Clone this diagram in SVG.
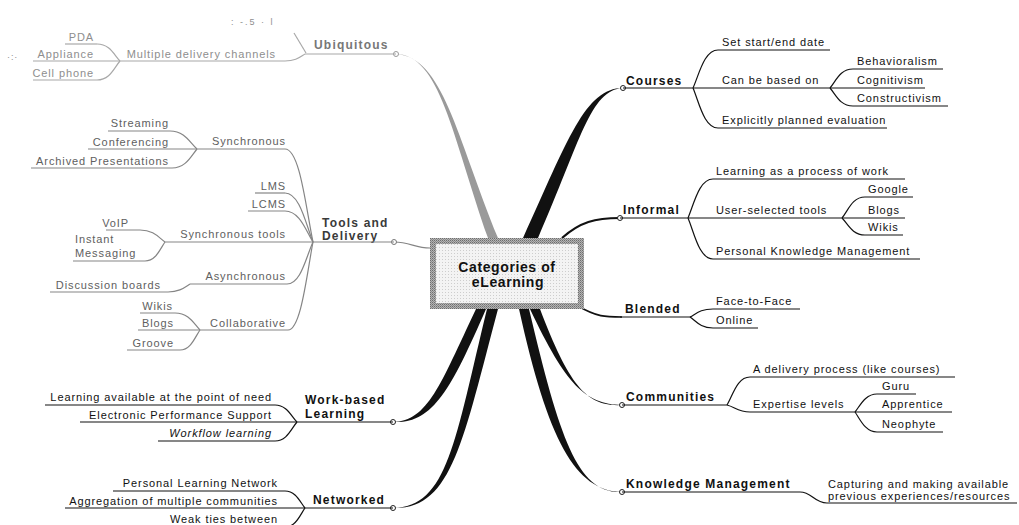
<svg xmlns="http://www.w3.org/2000/svg" width="1019" height="525" viewBox="0 0 1019 525">
  <defs>
    <pattern id="hatch" width="2" height="2" patternUnits="userSpaceOnUse">
      <rect width="2" height="2" fill="#b4b4b4"/>
      <rect width="1" height="1" fill="#6e6e6e"/>
      <rect x="1" y="1" width="1" height="1" fill="#8a8a8a"/>
    </pattern>
    <pattern id="dots" width="3" height="3" patternUnits="userSpaceOnUse">
      <rect width="3" height="3" fill="#f3f3f3"/>
      <rect x="1" y="1" width="1" height="1" fill="#cdcdcd"/>
    </pattern>
    <style>
      .t { font-family: "Liberation Sans", Arial, sans-serif; font-size: 11px; letter-spacing: 0.9px; fill: #111; }
      .b { font-weight: bold; font-size: 12px; letter-spacing: 1.2px; }
      .e { text-anchor: end; }
      .i { font-style: italic; }
      .ul { stroke: #111; stroke-width: 1.2; fill: none; }
      .c { stroke: #111; stroke-width: 1.2; fill: none; }
      .ubq .t { fill: #8e8e8e; }
      .ubq .b { fill: #777; }
      .ubq .ul, .ubq-c { stroke: #a8a8a8; }
      .tls .t { fill: #606060; }
      .tls .b { fill: #3a3a3a; }
      .tls .ul, .tls-c { stroke: #858585; }
      .dot { fill: #fff; stroke: #222; stroke-width: 1; }
      .trunk { fill: #111; }
    </style>
  </defs>

  <rect width="1019" height="525" fill="#fff"/>

  <!-- connectors -->
  <g id="connectors">
    <!-- tapered main branches -->
    <path d="M488,238 C452,135 440,55 396,54 C443,57 456,135 498,238 Z" fill="#9a9a9a"/>
    <path class="trunk" d="M523,238 C568,140 585,88 623,88 C590,90 581,140 538,238 Z"/>
    <path class="trunk" d="M476,309 C440,385 428,421 393,422 C432,424 450,392 486,309 Z"/>
    <path class="trunk" d="M487,309 C455,440 448,507 393,508 C452,510 463,440 498,309 Z"/>
    <path class="trunk" d="M530,309 C566,385 585,404 622,405 C588,407 570,388 540,309 Z"/>
    <path class="trunk" d="M519,309 C548,440 575,491 622,492 C578,494 560,440 529,309 Z"/>
    <path d="M562,238 C580,222 595,218 620,218" stroke="#111" stroke-width="2.2" fill="none"/>
    <path d="M578,306 C597,317 605,317 622,317" stroke="#111" stroke-width="1.6" fill="none"/>
    <path class="c tls-c" d="M394,242 C410,242 415,248 430,248"/>

    <!-- Ubiquitous -->
    <path class="c ubq-c" d="M305,54 C300,57 296,61 285,61"/>
    <path class="c ubq-c" d="M306,53 L294,33"/>
    <path class="c ubq-c" d="M120,61 C114,55 110,44 97,44"/>
    <path class="c ubq-c" d="M120,61 C114,68 110,80 97,80"/>

    <!-- Tools and Delivery -->
    <path class="c tls-c" d="M313,242 C306,209 300,149 285,149"/>
    <path class="c tls-c" d="M313,242 C306,225 300,193 285,193"/>
    <path class="c tls-c" d="M313,242 C306,231 300,211 285,211"/>
    <path class="c tls-c" d="M313,242 C306,257 301,284 287,284"/>
    <path class="c tls-c" d="M313,242 C307,273 301,330 288,330"/>
    <path class="c tls-c" d="M197,149 C190,143 185,131 170,131"/>
    <path class="c tls-c" d="M197,149 C191,156 186,168 172,168"/>
    <path class="c tls-c" d="M165,242 C159,238 154,230 140,230"/>
    <path class="c tls-c" d="M165,242 C160,249 156,261 145,261"/>
    <path class="c tls-c" d="M190,284 C185,287 180,292 168,292"/>
    <path class="c tls-c" d="M200,330 C194,324 189,313 175,313"/>
    <path class="c tls-c" d="M200,330 C195,337 191,350 180,350"/>

    <!-- Work-based Learning -->
    <path class="c" d="M297,422 C291,416 287,405 275,405"/>
    <path class="c" d="M297,422 C291,429 287,441 275,441"/>

    <!-- Networked -->
    <path class="c" d="M305,508 C300,502 296,491 285,491"/>
    <path class="c" d="M305,508 C300,515 296,527 285,527"/>

    <!-- Courses -->
    <path class="c" d="M693,88 C699,75 704,50 718,50"/>
    <path class="c" d="M693,88 C699,102 704,128 718,128"/>
    <path class="c" d="M830,88 C836,81 840,69 853,69"/>
    <path class="c" d="M830,88 C836,95 840,106 853,106"/>

    <!-- Informal -->
    <path class="c" d="M688,218 C694,204 699,179 713,179"/>
    <path class="c" d="M688,218 C694,232 699,259 713,259"/>
    <path class="c" d="M842,218 C848,211 852,197 865,197"/>
    <path class="c" d="M842,218 C848,224 852,235 865,235"/>

    <!-- Blended -->
    <path class="c" d="M690,317 C696,314 700,309 713,309"/>
    <path class="c" d="M690,317 C696,321 700,328 713,328"/>

    <!-- Communities -->
    <path class="c" d="M727,405 C733,395 737,377 750,377"/>
    <path class="c" d="M727,405 C735,407 738,412 750,412"/>
    <path class="c" d="M855,412 C860,406 865,394 877,394"/>
    <path class="c" d="M855,412 C860,419 865,432 877,432"/>

    <!-- Knowledge Management -->
    <path class="c" d="M800,492 C812,492 814,503 827,503"/>

    <!-- joints -->
    <circle cx="396" cy="54" r="2.5" fill="#fff" stroke="#999" stroke-width="1"/>
    <circle cx="394" cy="242" r="2.5" fill="#fff" stroke="#777" stroke-width="1"/>
    <circle class="dot" cx="393" cy="422" r="2.5"/>
    <circle class="dot" cx="393" cy="508" r="2.5"/>
    <circle class="dot" cx="623" cy="88" r="2.5"/>
    <circle class="dot" cx="620" cy="218" r="2.5"/>
    <circle class="dot" cx="622" cy="405" r="2.5"/>
    <circle class="dot" cx="622" cy="492" r="2.5"/>
  </g>

  <!-- central topic -->
  <g id="center">
    <rect x="430" y="238" width="154" height="71" fill="url(#hatch)"/>
    <rect x="436" y="244" width="142" height="59" fill="url(#dots)"/>
    <text class="t b" x="507" y="272" text-anchor="middle" style="font-size:14px;letter-spacing:0.6px">Categories of</text>
    <text class="t b" x="508" y="287" text-anchor="middle" style="font-size:14px;letter-spacing:0.6px">eLearning</text>
  </g>

  <!-- Ubiquitous -->
  <g id="ubiquitous" class="ubq">
    <text class="t b" x="314" y="49">Ubiquitous</text>
    <line class="ul" x1="305" y1="54" x2="396" y2="54"/>
    <text class="t" x="231" y="25" style="font-size:9px;letter-spacing:2px">: -.5 · l</text>
  </g>
  <g id="ubq-channels" class="ubq">
    <text class="t e" x="276" y="58">Multiple delivery channels</text>
    <line class="ul" x1="120" y1="61" x2="285" y2="61"/>
  </g>
  <g id="ubq-pda" class="ubq">
    <text class="t e" x="94" y="41">PDA</text>
    <line class="ul" x1="65" y1="44" x2="97" y2="44"/>
  </g>
  <g id="ubq-appliance" class="ubq">
    <text class="t e" x="94" y="58">Appliance</text>
    <line class="ul" x1="33" y1="61" x2="120" y2="61"/>
    <text class="t" x="7" y="60" style="font-size:9px">·:·</text>
  </g>
  <g id="ubq-cell" class="ubq">
    <text class="t e" x="94" y="77">Cell phone</text>
    <line class="ul" x1="33" y1="80" x2="97" y2="80"/>
  </g>

  <!-- Tools and Delivery -->
  <g id="tools" class="tls">
    <text class="t b" x="322" y="227">Tools and</text>
    <text class="t b" x="322" y="240">Delivery</text>
    <line class="ul" x1="313" y1="242" x2="394" y2="242"/>
  </g>
  <g id="tls-sync" class="tls">
    <text class="t e" x="286" y="145">Synchronous</text>
    <line class="ul" x1="197" y1="149" x2="285" y2="149"/>
  </g>
  <g id="tls-streaming" class="tls">
    <text class="t e" x="169" y="127">Streaming</text>
    <line class="ul" x1="108" y1="131" x2="170" y2="131"/>
  </g>
  <g id="tls-conferencing" class="tls">
    <text class="t e" x="169" y="146">Conferencing</text>
    <line class="ul" x1="88" y1="149" x2="197" y2="149"/>
  </g>
  <g id="tls-archived" class="tls">
    <text class="t e" x="169" y="165">Archived Presentations</text>
    <line class="ul" x1="31" y1="168" x2="172" y2="168"/>
  </g>
  <g id="tls-lms" class="tls">
    <text class="t e" x="286" y="190">LMS</text>
    <line class="ul" x1="255" y1="193" x2="285" y2="193"/>
  </g>
  <g id="tls-lcms" class="tls">
    <text class="t e" x="286" y="208">LCMS</text>
    <line class="ul" x1="248" y1="211" x2="285" y2="211"/>
  </g>
  <g id="tls-synctools" class="tls">
    <text class="t e" x="286" y="238">Synchronous tools</text>
    <line class="ul" x1="165" y1="242" x2="313" y2="242"/>
  </g>
  <g id="tls-voip" class="tls">
    <text class="t e" x="129" y="227">VoIP</text>
    <line class="ul" x1="106" y1="230" x2="140" y2="230"/>
  </g>
  <g id="tls-im" class="tls">
    <text class="t" x="75" y="243">Instant</text>
    <text class="t" x="75" y="257">Messaging</text>
    <line class="ul" x1="73" y1="261" x2="145" y2="261"/>
  </g>
  <g id="tls-async" class="tls">
    <text class="t e" x="286" y="280">Asynchronous</text>
    <line class="ul" x1="190" y1="284" x2="287" y2="284"/>
  </g>
  <g id="tls-boards" class="tls">
    <text class="t e" x="161" y="289">Discussion boards</text>
    <line class="ul" x1="50" y1="292" x2="168" y2="292"/>
  </g>
  <g id="tls-collab" class="tls">
    <text class="t e" x="286" y="327">Collaborative</text>
    <line class="ul" x1="200" y1="330" x2="288" y2="330"/>
  </g>
  <g id="tls-wikis" class="tls">
    <text class="t e" x="173" y="310">Wikis</text>
    <line class="ul" x1="140" y1="313" x2="175" y2="313"/>
  </g>
  <g id="tls-blogs" class="tls">
    <text class="t e" x="174" y="327">Blogs</text>
    <line class="ul" x1="138" y1="330" x2="200" y2="330"/>
  </g>
  <g id="tls-groove" class="tls">
    <text class="t e" x="174" y="347">Groove</text>
    <line class="ul" x1="127" y1="350" x2="180" y2="350"/>
  </g>

  <!-- Work-based Learning -->
  <g id="workbased">
    <text class="t b" x="305" y="404">Work-based</text>
    <text class="t b" x="305" y="418">Learning</text>
    <line class="ul" x1="297" y1="422" x2="393" y2="422"/>
  </g>
  <g id="wb-need">
    <text class="t e" x="272" y="401">Learning available at the point of need</text>
    <line class="ul" x1="45" y1="405" x2="275" y2="405"/>
  </g>
  <g id="wb-eps">
    <text class="t e" x="272" y="419">Electronic Performance Support</text>
    <line class="ul" x1="80" y1="422" x2="297" y2="422"/>
  </g>
  <g id="wb-workflow">
    <text class="t e i" x="272" y="437">Workflow learning</text>
    <line class="ul" x1="158" y1="441" x2="275" y2="441"/>
  </g>

  <!-- Networked -->
  <g id="networked">
    <text class="t b" x="313" y="504">Networked</text>
    <line class="ul" x1="305" y1="508" x2="393" y2="508"/>
  </g>
  <g id="nw-pln">
    <text class="t e" x="278" y="487">Personal Learning Network</text>
    <line class="ul" x1="113" y1="491" x2="285" y2="491"/>
  </g>
  <g id="nw-aggregation">
    <text class="t e" x="278" y="505">Aggregation of multiple communities</text>
    <line class="ul" x1="65" y1="508" x2="305" y2="508"/>
  </g>
  <g id="nw-weakties">
    <text class="t e" x="278" y="523">Weak ties between</text>
    <line class="ul" x1="160" y1="527" x2="285" y2="527"/>
  </g>

  <!-- Courses -->
  <g id="courses">
    <text class="t b" x="626" y="85">Courses</text>
    <line class="ul" x1="623" y1="88" x2="693" y2="88"/>
  </g>
  <g id="c-dates">
    <text class="t" x="722" y="46">Set start/end date</text>
    <line class="ul" x1="718" y1="50" x2="830" y2="50"/>
  </g>
  <g id="c-based">
    <text class="t" x="722" y="84">Can be based on</text>
    <line class="ul" x1="693" y1="88" x2="830" y2="88"/>
  </g>
  <g id="c-behav">
    <text class="t" x="857" y="65">Behavioralism</text>
    <line class="ul" x1="853" y1="69" x2="943" y2="69"/>
  </g>
  <g id="c-cogn">
    <text class="t" x="857" y="84">Cognitivism</text>
    <line class="ul" x1="830" y1="88" x2="925" y2="88"/>
  </g>
  <g id="c-constr">
    <text class="t" x="857" y="102">Constructivism</text>
    <line class="ul" x1="853" y1="106" x2="948" y2="106"/>
  </g>
  <g id="c-eval">
    <text class="t" x="722" y="124">Explicitly planned evaluation</text>
    <line class="ul" x1="718" y1="128" x2="887" y2="128"/>
  </g>

  <!-- Informal -->
  <g id="informal">
    <text class="t b" x="623" y="214">Informal</text>
    <line class="ul" x1="620" y1="218" x2="688" y2="218"/>
  </g>
  <g id="i-work">
    <text class="t" x="716" y="175">Learning as a process of work</text>
    <line class="ul" x1="713" y1="179" x2="905" y2="179"/>
  </g>
  <g id="i-tools">
    <text class="t" x="716" y="214">User-selected tools</text>
    <line class="ul" x1="688" y1="218" x2="842" y2="218"/>
  </g>
  <g id="i-google">
    <text class="t" x="868" y="193">Google</text>
    <line class="ul" x1="865" y1="197" x2="913" y2="197"/>
  </g>
  <g id="i-blogs">
    <text class="t" x="868" y="214">Blogs</text>
    <line class="ul" x1="842" y1="218" x2="905" y2="218"/>
  </g>
  <g id="i-wikis">
    <text class="t" x="868" y="231">Wikis</text>
    <line class="ul" x1="865" y1="235" x2="903" y2="235"/>
  </g>
  <g id="i-pkm">
    <text class="t" x="716" y="255">Personal Knowledge Management</text>
    <line class="ul" x1="713" y1="259" x2="920" y2="259"/>
  </g>

  <!-- Blended -->
  <g id="blended">
    <text class="t b" x="625" y="313">Blended</text>
    <line class="ul" x1="620" y1="317" x2="690" y2="317"/>
  </g>
  <g id="b-f2f">
    <text class="t" x="716" y="305">Face-to-Face</text>
    <line class="ul" x1="713" y1="309" x2="800" y2="309"/>
  </g>
  <g id="b-online">
    <text class="t" x="716" y="324">Online</text>
    <line class="ul" x1="713" y1="328" x2="758" y2="328"/>
  </g>

  <!-- Communities -->
  <g id="communities">
    <text class="t b" x="626" y="401">Communities</text>
    <line class="ul" x1="622" y1="405" x2="727" y2="405"/>
  </g>
  <g id="cm-delivery">
    <text class="t" x="753" y="373">A delivery process (like courses)</text>
    <line class="ul" x1="750" y1="377" x2="955" y2="377"/>
  </g>
  <g id="cm-levels">
    <text class="t" x="753" y="408">Expertise levels</text>
    <line class="ul" x1="750" y1="412" x2="855" y2="412"/>
  </g>
  <g id="cm-guru">
    <text class="t" x="882" y="390">Guru</text>
    <line class="ul" x1="877" y1="394" x2="916" y2="394"/>
  </g>
  <g id="cm-apprentice">
    <text class="t" x="882" y="408">Apprentice</text>
    <line class="ul" x1="855" y1="412" x2="952" y2="412"/>
  </g>
  <g id="cm-neophyte">
    <text class="t" x="882" y="428">Neophyte</text>
    <line class="ul" x1="877" y1="432" x2="943" y2="432"/>
  </g>

  <!-- Knowledge Management -->
  <g id="km">
    <text class="t b" x="626" y="488">Knowledge Management</text>
    <line class="ul" x1="622" y1="492" x2="800" y2="492"/>
  </g>
  <g id="km-capture">
    <text class="t" x="828" y="488">Capturing and making available</text>
    <text class="t" x="828" y="500">previous experiences/resources</text>
    <line class="ul" x1="827" y1="503" x2="1017" y2="503"/>
  </g>
</svg>
